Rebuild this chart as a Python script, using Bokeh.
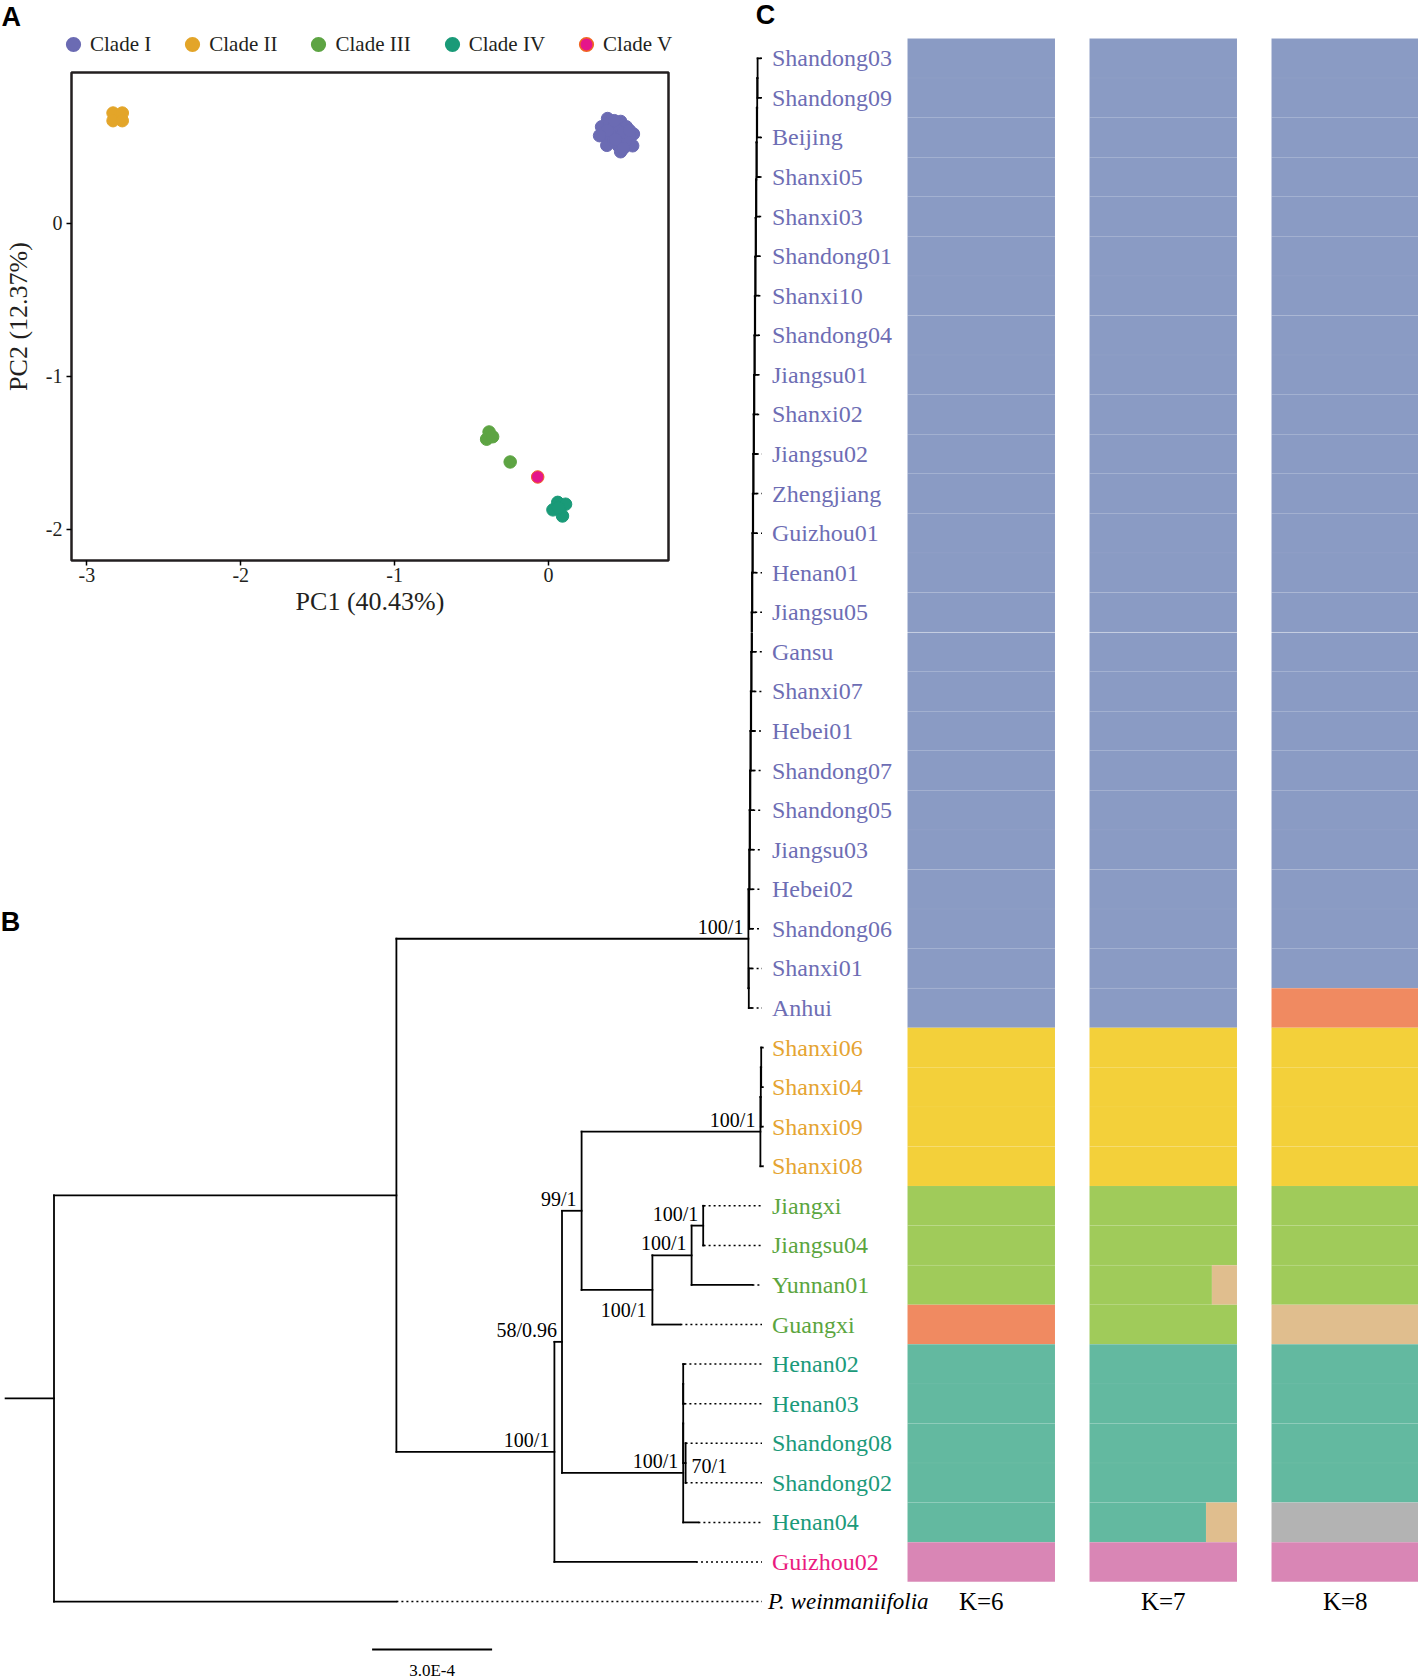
from bokeh.plotting import figure
from bokeh.models import Range1d, FixedTicker, Legend, LegendItem, ColumnDataSource
from bokeh.layouts import column, row
from bokeh.embed import file_html
from bokeh.resources import INLINE
from bokeh.core.properties import value

SERIF = "Liberation Serif"
SANS = "Liberation Sans"

# ------------------------------------------------------------------ data
clades = ["Clade I", "Clade II", "Clade III", "Clade IV", "Clade V"]
clade_colors = ["#6B6BB3", "#E3A529", "#5DA443", "#1A9A78", "#E5168A"]
label_colors = ["#6D6DB4", "#E5A431", "#5BA53E", "#1B9A7A", "#EA1A80"]

# PCA scores (PC1, PC2)
pc1_I = [0.384, 0.469, 0.345, 0.410, 0.506, 0.449, 0.350, 0.552, 0.410, 0.474, 0.526, 0.379, 0.454,
         0.547, 0.469, 0.423, 0.500, 0.397, 0.487, 0.436, 0.384, 0.526, 0.428, 0.332, 0.487]
pc2_I = [0.684, 0.665, 0.630, 0.630, 0.630, 0.607, 0.576, 0.583, 0.572, 0.572, 0.560, 0.509, 0.506,
         0.506, 0.467, 0.537, 0.537, 0.653, 0.595, 0.548, 0.607, 0.607, 0.670, 0.572, 0.490]
pc1_II = [-2.83, -2.77, -2.83, -2.77]
pc2_II = [0.72, 0.72, 0.67, 0.67]
pc1_III = [-0.386, -0.402, -0.363, -0.249]
pc2_III = [-1.365, -1.412, -1.396, -1.561]
pc1_IV = [0.060, 0.111, 0.029, 0.091, 0.065]
pc2_IV = [-1.825, -1.837, -1.874, -1.914, -1.860]
pc1_V = [-0.070]
pc2_V = [-1.659]
pc1_ticks = [-3, -2, -1, 0]
pc2_ticks = [-2, -1, 0]
PC1_RANGE = (-3.10, 0.78)
PC2_RANGE = (-2.205, 0.985)

# tips, top to bottom
tips_I = ["Shandong03", "Shandong09", "Beijing", "Shanxi05", "Shanxi03", "Shandong01", "Shanxi10",
          "Shandong04", "Jiangsu01", "Shanxi02", "Jiangsu02", "Zhengjiang", "Guizhou01", "Henan01",
          "Jiangsu05", "Gansu", "Shanxi07", "Hebei01", "Shandong07", "Shandong05", "Jiangsu03",
          "Hebei02", "Shandong06", "Shanxi01", "Anhui"]
tips_II = ["Shanxi06", "Shanxi04", "Shanxi09", "Shanxi08"]
tips_III = ["Jiangxi", "Jiangsu04", "Yunnan01", "Guangxi"]
tips_IV = ["Henan02", "Henan03", "Shandong08", "Shandong02", "Henan04"]
tips_V = ["Guizhou02"]
outgroup = "P. weinmaniifolia"

# branch lengths in units of 1e-4 substitutions / site
clade1_tip_bl = [0.07, 0.07, 0.07, 0.07, 0.07, 0.07, 0.07, 0.07, 0.07, 0.07, 0.07, 0.07, 0.07,
                 0.07, 0.07, 0.07, 0.07, 0.07, 0.07, 0.07, 0.07, 0.07, 0.07, 0.07, 0.07]
clade1_step_bl = [0.01, 0.01, 0.01, 0.01, 0.01, 0.01, 0.01, 0.01, 0.01, 0.01, 0.01,
                  0.01, 0.01, 0.01, 0.01, 0.01, 0.01, 0.01, 0.01, 0.01, 0.01, 0.02]
SCALE_BAR = 3.0  # 3.0E-4

# STRUCTURE (ADMIXTURE) memberships
K_values = [6, 7, 8]
adm_colors = {"blue": "#8A9BC4", "yellow": "#F3D03A", "green": "#A0CB5A", "orange": "#F08A61",
              "teal": "#63B9A0", "pink": "#D986B5", "tan": "#E0BE8E", "gray": "#B3B3B3"}
k6_main = ["blue"] * 25 + ["yellow"] * 4 + ["green", "green", "green", "orange"] + ["teal"] * 5 + ["pink"]
k7_main = ["blue"] * 25 + ["yellow"] * 4 + ["green", "green", "green", "green"] + ["teal"] * 5 + ["pink"]
k8_main = (["blue"] * 24 + ["orange"] + ["yellow"] * 4 + ["green", "green", "green", "tan"]
           + ["teal", "teal", "teal", "teal", "gray"] + ["pink"])
k6_minor = {}
k7_minor = {"Yunnan01": ("tan", 0.17), "Henan04": ("tan", 0.21)}
k8_minor = {}

# ------------------------------------------------------------------ layout constants (px)
PAGE_W, PAGE_H = 1418, 1679
PCA_W = 700
TOP_H = 632
HEAD_H = 68
TR_W = PAGE_W - PCA_W
BOT_H = PAGE_H - TOP_H

ROOT_PX, UNIT_PX, ROW0_PX, ROW_PX = 53.5, 40.0, 57.8, 39.57
def tx(px):
    return (px - ROOT_PX) / UNIT_PX
def ty(py):
    return (py - ROW0_PX) / ROW_PX

ALIGN = tx(761.5)
LW = 1.8
SPLIT_ROW = ty(TOP_H)

def no_align(p):
    try:
        p.frame_align = False
    except Exception:
        pass
    return p

# ------------------------------------------------------------------ tree
def tip(name, bl):
    return {"name": name, "bl": bl, "children": [], "support": None, "id": None}
def node(children, bl, support=None, nid=None):
    return {"name": None, "bl": bl, "children": children, "support": support, "id": nid}

sub = node([tip(tips_I[0], clade1_tip_bl[0]), tip(tips_I[1], clade1_tip_bl[1])], clade1_step_bl[0])
for k in range(2, 23):
    sub = node([sub, tip(tips_I[k], clade1_tip_bl[k])], clade1_step_bl[k - 1])
pair = node([tip(tips_I[23], clade1_tip_bl[23]), tip(tips_I[24], clade1_tip_bl[24])], 0.01)
cladeI = node([sub, pair], 8.80, "100/1")

cladeII = node([node([node([tip("Shanxi06", 0.04), tip("Shanxi04", 0.04)], 0.01),
                      tip("Shanxi09", 0.05)], 0.01), tip("Shanxi08", 0.06)], 4.47, "100/1")
cladeIII = node([node([node([tip("Jiangxi", 0.01), tip("Jiangsu04", 0.01)], 0.29, "100/1"),
                       tip("Yunnan01", 1.52)], 0.98, "100/1"),
                 tip("Guangxi", 0.70)], 1.77, "100/1", "III")
cladeIV = node([node([node([tip("Henan02", 0.03), tip("Henan03", 0.03)], 0.0),
                      node([tip("Shandong08", 0.0), tip("Shandong02", 0.0)], 0.06, "70/1", "W")], 0.0),
                tip("Henan04", 0.38)], 3.03, "100/1")
nodeT = node([cladeII, cladeIII], 0.49, "99/1")
nodeS = node([nodeT, cladeIV], 0.19, "58/0.96")
nodeR = node([nodeS, tip("Guizhou02", 3.54)], 3.95, "100/1")
ingroup = node([cladeI, nodeR], 8.56)
tree = node([ingroup, tip(outgroup, 8.56)], 1.21)

samples = tips_I + tips_II + tips_III + tips_IV + tips_V
all_tips = samples + [outgroup]
row_of = {n: i for i, n in enumerate(all_tips)}
clade_of = {}
for ci, lst in enumerate([tips_I, tips_II, tips_III, tips_IV, tips_V]):
    for n in lst:
        clade_of[n] = ci

H = {"x0": [], "x1": [], "y": []}
V = {"x": [], "y0": [], "y1": []}
D = {"x0": [], "x1": [], "y": []}
SUP = {"x": [], "y": [], "t": [], "side": []}

def lay(n, depth):
    x = depth + n["bl"]
    if not n["children"]:
        y = row_of[n["name"]]
        if x < ALIGN:
            D["x0"].append(x); D["x1"].append(ALIGN); D["y"].append(y)
    else:
        ys = [lay(c, x) for c in n["children"]]
        y = (ys[0] + ys[-1]) / 2
        V["x"].append(x); V["y0"].append(ys[0]); V["y1"].append(ys[-1])
        if n["support"]:
            SUP["x"].append(x); SUP["y"].append(y); SUP["t"].append(n["support"])
            SUP["side"].append({"III": "below", "W": "right"}.get(n["id"], "above"))
    H["x0"].append(depth); H["x1"].append(x); H["y"].append(y)
    return y

lay(tree, -tree["bl"])

# ------------------------------------------------------------------ header (panel letter A + legend)
header = figure(width=PCA_W, height=HEAD_H, x_range=Range1d(0, PCA_W), y_range=Range1d(HEAD_H, 0),
                output_backend="svg", toolbar_location=None, x_axis_location=None,
                y_axis_location=None, min_border=0)
no_align(header)
header.outline_line_color = None
header.grid.grid_line_color = None
header.text(x=[1], y=[16], text=["A"], text_font=value(SANS), text_font_style="bold",
            text_font_size="27px", text_align="left", text_baseline="middle", text_color="black")

GLY = 34
hrends = []
for i in range(len(clades)):
    lc = "#F26522" if i == 4 else clade_colors[i]
    hrends.append(header.scatter(x=[-100], y=[-100], size=13, fill_color=clade_colors[i],
                                 line_color=lc, line_width=1.6))
legend = Legend(items=[LegendItem(label=c, renderers=[r]) for c, r in zip(clades, hrends)],
                orientation="horizontal",
                location=(73 - GLY / 2, HEAD_H - 44 - GLY / 2),
                glyph_width=GLY, glyph_height=GLY, label_standoff=0, spacing=24,
                padding=0, margin=0, border_line_color=None, background_fill_alpha=0,
                label_text_font=SERIF, label_text_font_size="21px", label_text_color="#231F20")
header.add_layout(legend)

# ------------------------------------------------------------------ PCA figure
fl, fr, ft, fb = 65, PCA_W - 668, 72 - HEAD_H, TOP_H - 560
pca = figure(width=PCA_W, height=TOP_H - HEAD_H, x_range=Range1d(*PC1_RANGE),
             y_range=Range1d(*PC2_RANGE), output_backend="svg", toolbar_location=None,
             min_border_left=fl, min_border_right=fr, min_border_top=ft, min_border_bottom=fb,
             x_axis_label="PC1 (40.43%)", y_axis_label="PC2 (12.37%)")
no_align(pca)
pca.grid.grid_line_color = None
pca.outline_line_color = "#231F20"
pca.outline_line_width = 2.5
pca.xaxis.ticker = FixedTicker(ticks=pc1_ticks)
pca.yaxis.ticker = FixedTicker(ticks=pc2_ticks)
pca.xaxis.major_label_overrides = {t: str(t) for t in pc1_ticks}
pca.yaxis.major_label_overrides = {t: str(t) for t in pc2_ticks}
for ax in [pca.xaxis[0], pca.yaxis[0]]:
    ax.axis_line_color = None
    ax.major_tick_in = 0
    ax.major_tick_out = 5
    ax.major_tick_line_color = "black"
    ax.major_tick_line_width = 1.5
    ax.minor_tick_line_color = None
    ax.major_label_text_font = SERIF
    ax.major_label_text_font_size = "20px"
    ax.major_label_text_color = "#231F20"
    ax.axis_label_text_font = SERIF
    ax.axis_label_text_font_size = "26px"
    ax.axis_label_text_font_style = "normal"
    ax.axis_label_text_color = "#231F20"
pca.xaxis.major_label_standoff = 2
pca.xaxis.axis_label_standoff = 2
pca.yaxis.major_label_standoff = 4
pca.yaxis.axis_label_standoff = 10

pts = [(pc1_I, pc2_I), (pc1_II, pc2_II), (pc1_III, pc2_III), (pc1_IV, pc2_IV), (pc1_V, pc2_V)]
for i, (xs, ys) in enumerate(pts):
    lc = "#F26522" if i == 4 else clade_colors[i]
    pca.scatter(xs, ys, size=12.5, fill_color=clade_colors[i], line_color=lc, line_width=1.0)

# ------------------------------------------------------------------ tree + structure figures
def base_fig(w, h, xr, yr):
    p = figure(width=w, height=h, x_range=Range1d(*xr), y_range=Range1d(*yr),
               output_backend="svg", toolbar_location=None,
               x_axis_location=None, y_axis_location=None, min_border=0)
    no_align(p)
    p.outline_line_color = None
    p.grid.grid_line_color = None
    return p

tr = base_fig(TR_W, TOP_H, (tx(PCA_W), tx(PAGE_W)), (ty(TOP_H), ty(0)))
bt = base_fig(PAGE_W, BOT_H, (tx(0), tx(PAGE_W)), (ty(PAGE_H), ty(TOP_H)))

BAR_LEFT_PX = [907, 1089, 1271]
BAR_W_PX = 147.5

adm_main = {6: k6_main, 7: k7_main, 8: k8_main}
adm_minor = {6: k6_minor, 7: k7_minor, 8: k8_minor}
Q = {"l": [], "r": [], "t": [], "b": [], "c": []}
for j, K in enumerate(K_values):
    left = tx(BAR_LEFT_PX[j])
    width = BAR_W_PX / UNIT_PX
    for i, s in enumerate(samples):
        comps = []
        minor = adm_minor[K].get(s)
        mf = minor[1] if minor else 0.0
        comps.append((adm_main[K][i], 1.0 - mf))
        if minor:
            comps.append(minor)
        cum = 0.0
        for cname, frac in comps:
            Q["l"].append(left + cum * width)
            Q["r"].append(left + (cum + frac) * width)
            Q["t"].append(i - 0.5)
            Q["b"].append(i + 0.5)
            Q["c"].append(adm_colors[cname])
            cum += frac

def draw_marks(p):
    p.quad(left=Q["l"], right=Q["r"], top=Q["t"], bottom=Q["b"], fill_color=Q["c"],
           line_color="white", line_alpha=0.05, line_width=0.8)
    p.segment(x0=H["x0"], y0=H["y"], x1=H["x1"], y1=H["y"], line_color="black", line_width=LW,
              line_cap="square")
    p.segment(x0=V["x"], y0=V["y0"], x1=V["x"], y1=V["y1"], line_color="black", line_width=LW,
              line_cap="square")
    p.segment(x0=D["x0"], y0=D["y"], x1=D["x1"], y1=D["y"], line_color="black", line_width=1.5,
              line_dash="2 3")

def draw_tip_labels(p, names):
    src = ColumnDataSource(dict(x=[ALIGN] * len(names), y=[row_of[s] for s in names], t=names,
                                c=[label_colors[clade_of[s]] for s in names]))
    p.text(x="x", y="y", text="t", source=src, text_color="c", text_font=value(SERIF),
           text_font_size="24px", text_align="left", text_baseline="middle", x_offset=10)

draw_marks(tr)
draw_marks(bt)
top_names = [s for s in samples if row_of[s] < SPLIT_ROW]
bot_names = [s for s in samples if row_of[s] >= SPLIT_ROW]
draw_tip_labels(tr, top_names)
draw_tip_labels(bt, bot_names)

bt.text(x=[ALIGN], y=[row_of[outgroup]], text=[outgroup], text_font=value(SERIF),
        text_font_style="italic", text_font_size="23px", text_align="left",
        text_baseline="middle", x_offset=6, text_color="black")
for side, al, bl, xo, yo in [("above", "right", "bottom", -5, -1), ("below", "right", "top", -6, 9),
                             ("right", "left", "middle", 6, 3)]:
    idx = [k for k, s in enumerate(SUP["side"]) if s == side]
    bt.text(x=[SUP["x"][k] for k in idx], y=[SUP["y"][k] for k in idx],
            text=[SUP["t"][k] for k in idx], text_font=value(SERIF), text_font_size="20px",
            text_align=al, text_baseline=bl, x_offset=xo, y_offset=yo, text_color="black")
bt.text(x=[tx(BAR_LEFT_PX[j]) + BAR_W_PX / UNIT_PX / 2 for j in range(len(K_values))],
        y=[row_of[outgroup]] * len(K_values), text=[f"K={k}" for k in K_values],
        text_font=value(SERIF), text_font_size="25px", text_align="center",
        text_baseline="middle", text_color="black")
sb0 = tx(371.6)
bt.segment(x0=[sb0], y0=[ty(1649)], x1=[sb0 + SCALE_BAR], y1=[ty(1649)], line_color="black",
           line_width=1.8)
bt.text(x=[sb0 + SCALE_BAR / 2], y=[ty(1670)], text=["3.0E-4"], text_font=value(SERIF),
        text_font_size="17px", text_align="center", text_baseline="middle", text_color="black")

tr.text(x=[tx(765)], y=[ty(14)], text=["C"], text_font=value(SANS), text_font_style="bold",
        text_font_size="27px", text_align="center", text_baseline="middle", text_color="black")
bt.text(x=[tx(10)], y=[ty(921)], text=["B"], text_font=value(SANS), text_font_style="bold",
        text_font_size="27px", text_align="center", text_baseline="middle", text_color="black")

layout = column(row(column(header, pca, spacing=0), tr, spacing=0), bt, spacing=0)
open("out.html", "w").write(file_html(layout, INLINE))
